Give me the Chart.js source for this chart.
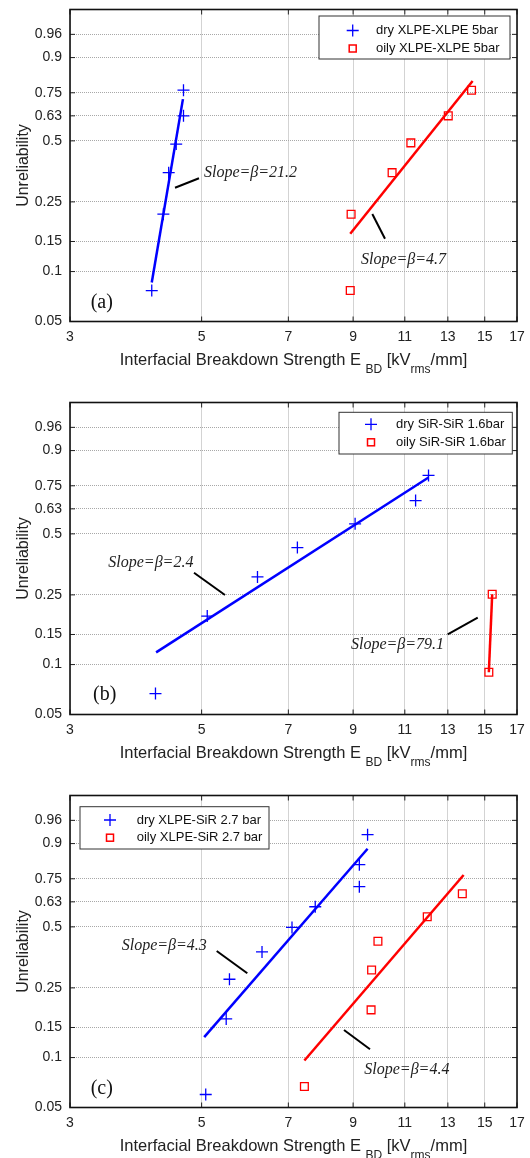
<!DOCTYPE html>
<html>
<head>
<meta charset="utf-8">
<script src="https://cdn.jsdelivr.net/npm/chart.js@4.4.0/dist/chart.umd.min.js"></script>
<style>
    html, body { margin: 0; padding: 0; background: #fff; overflow: hidden; }
    .panel { position: absolute; left: 0; width: 530px; height: 384px; }
</style>
</head>
<body>
<div class="panel" style="top:0px"><canvas id="chartA"></canvas></div>
<div class="panel" style="top:393px"><canvas id="chartB"></canvas></div>
<div class="panel" style="top:786px"><canvas id="chartC"></canvas></div>
<script>
// axis ticks
const xTicks = [3, 5, 7, 9, 11, 13, 15, 17]
const yTicks = [0.05, 0.1, 0.15, 0.25, 0.5, 0.63, 0.75, 0.9, 0.96]

// (a) XLPE-XLPE 5bar
const aDryE = [4.12, 4.31, 4.40, 4.53, 4.66, 4.66]
const aDryF = [0.077, 0.214, 0.355, 0.484, 0.630, 0.763]
const aOilyE = [8.90, 8.93, 10.47, 11.26, 13.02, 14.25]
const aOilyF = [0.077, 0.214, 0.355, 0.490, 0.630, 0.763]
const aDryFitE = [4.12, 4.65]
const aDryFitF = [0.086, 0.718]
const aOilyFitE = [8.90, 14.31]
const aOilyFitF = [0.166, 0.807]

// (b) SiR-SiR 1.6bar
const bDryE = [4.18, 5.11, 6.21, 7.25, 9.07, 11.47, 12.06]
const bDryF = [0.067, 0.191, 0.311, 0.434, 0.551, 0.674, 0.800]
const bOilyE = [15.24, 15.44]
const bOilyF = [0.090, 0.252]
const bDryFitE = [4.19, 12.06]
const bDryFitF = [0.118, 0.790]
const bOilyFitE = [15.24, 15.44]
const bOilyFitF = [0.090, 0.252]

// (c) XLPE-SiR 2.7 bar
const cDryE = [5.08, 5.50, 5.57, 6.32, 7.10, 7.77, 9.22, 9.22, 9.52]
const cDryF = [0.060, 0.168, 0.278, 0.383, 0.497, 0.604, 0.710, 0.817, 0.927]
const cOilyE = [7.45, 9.65, 9.67, 9.91, 12.00, 13.75]
const cOilyF = [0.067, 0.189, 0.311, 0.431, 0.552, 0.673]
const cDryFitE = [5.05, 9.52]
const cDryFitF = [0.132, 0.882]
const cOilyFitE = [7.45, 13.82]
const cOilyFitF = [0.096, 0.769]

const sans = "'Liberation Sans', Arial, Helvetica, sans-serif"
const serif = "'Liberation Serif', 'Times New Roman', Times, serif"

// weibull probability paper: y = ln(-ln(1-F))
const weib = F => Math.log(-Math.log(1 - F))
const pts = (E, F) => E.map((e, i) => ({ x: e, y: weib(F[i]) }))

const panels = [
    {
        id: 'chartA', tag: '(a)', tagPos: [20.7, 293],
        dry: [aDryE, aDryF], oily: [aOilyE, aOilyF],
        dryFit: [aDryFitE, aDryFitF], oilyFit: [aOilyFitE, aOilyFitF],
        legend: { names: ['dry XLPE-XLPE 5bar', 'oily XLPE-XLPE 5bar'], box: [249, 6.5, 191, 43], markX: 282.7, textX: 306, rows: [21, 39] },
        notes: [
            { text: 'Slope=\u03b2=21.2', at: [134, 163.2], line: [105, 178.2, 129, 168.8] },
            { text: 'Slope=\u03b2=4.7', at: [291, 250.5], line: [302.3, 204.5, 315, 229.2] },
        ],
    },
    {
        id: 'chartB', tag: '(b)', tagPos: [23, 292.5],
        dry: [bDryE, bDryF], oily: [bOilyE, bOilyF],
        dryFit: [bDryFitE, bDryFitF], oilyFit: [bOilyFitE, bOilyFitF],
        legend: { names: ['dry SiR-SiR 1.6bar', 'oily SiR-SiR 1.6bar'], box: [269, 9.8, 173.3, 41.7], markX: 301, textX: 326, rows: [21.8, 39.8] },
        notes: [
            { text: 'Slope=\u03b2=2.4', at: [38.3, 160.2], line: [124, 170.2, 155, 192.5] },
            { text: 'Slope=\u03b2=79.1', at: [281, 242.5], line: [377.7, 231.8, 407.7, 215.2] },
        ],
    },
    {
        id: 'chartC', tag: '(c)', tagPos: [20.7, 293.5],
        dry: [cDryE, cDryF], oily: [cOilyE, cOilyF],
        dryFit: [cDryFitE, cDryFitF], oilyFit: [cOilyFitE, cOilyFitF],
        legend: { names: ['dry XLPE-SiR 2.7 bar', 'oily XLPE-SiR 2.7 bar'], box: [10, 11.2, 189, 42.3], markX: 40, textX: 66.7, rows: [24.5, 42.2] },
        notes: [
            { text: 'Slope=\u03b2=4.3', at: [51.7, 150.2], line: [146.7, 155.5, 177.3, 177.8] },
            { text: 'Slope=\u03b2=4.4', at: [294.3, 273.8], line: [274, 234.5, 300, 253.8] },
        ],
    },
]

function drawCross(ctx, x, y, r) {
    ctx.beginPath()
    ctx.moveTo(x - r, y)
    ctx.lineTo(x + r, y)
    ctx.moveTo(x, y - r)
    ctx.lineTo(x, y + r)
    ctx.stroke()
}

// frame, inward ticks, x title with subscripts, notes, legend
const decor = {
    id: 'decor',
    afterDraw(chart, args, opts) {
        const ctx = chart.ctx
        const a = chart.chartArea
        const xs = chart.scales.x
        const ys = chart.scales.y
        ctx.save()

        // inward tick marks on all four sides
        ctx.strokeStyle = '#222'
        ctx.lineWidth = 1
        ctx.beginPath()
        xTicks.forEach(v => {
            const px = xs.getPixelForValue(v)
            ctx.moveTo(px, a.top); ctx.lineTo(px, a.top + 5)
            ctx.moveTo(px, a.bottom); ctx.lineTo(px, a.bottom - 5)
        })
        yTicks.forEach(v => {
            const py = ys.getPixelForValue(weib(v))
            ctx.moveTo(a.left, py); ctx.lineTo(a.left + 5, py)
            ctx.moveTo(a.right, py); ctx.lineTo(a.right - 5, py)
        })
        ctx.stroke()

        // box
        ctx.strokeStyle = '#111'
        ctx.lineWidth = 1.6
        ctx.strokeRect(a.left, a.top, a.right - a.left, a.bottom - a.top)

        // x title: Interfacial Breakdown Strength E_BD [kV_rms/mm]
        const parts = [
            ['Interfacial Breakdown Strength E ', 16.5, 0],
            ['BD', 12, 7.5],
            [' [kV', 16.5, 0],
            ['rms', 12, 7.5],
            ['/mm]', 16.5, 0],
        ]
        let total = 0
        parts.forEach(p => { ctx.font = p[1] + 'px ' + sans; total += ctx.measureText(p[0]).width })
        let tx = (a.left + a.right) / 2 - total / 2
        const base = a.bottom + 43.5
        ctx.fillStyle = '#222'
        ctx.textBaseline = 'alphabetic'
        ctx.textAlign = 'left'
        parts.forEach(p => {
            ctx.font = p[1] + 'px ' + sans
            ctx.fillText(p[0], tx, base + p[2])
            tx += ctx.measureText(p[0]).width
        })

        // slope notes with leader lines
        ctx.strokeStyle = '#000'
        ctx.lineWidth = 2
        ctx.font = 'italic 16px ' + serif
        ctx.textBaseline = 'middle'
        opts.notes.forEach(n => {
            ctx.beginPath()
            ctx.moveTo(a.left + n.line[0], a.top + n.line[1])
            ctx.lineTo(a.left + n.line[2], a.top + n.line[3])
            ctx.stroke()
            ctx.fillStyle = '#222'
            ctx.fillText(n.text, a.left + n.at[0], a.top + n.at[1])
        })

        // panel tag
        ctx.font = '20px ' + serif
        ctx.fillStyle = '#111'
        ctx.fillText(opts.tag, a.left + opts.tagPos[0], a.top + opts.tagPos[1])

        // legend
        const lg = opts.legend
        ctx.fillStyle = '#fff'
        ctx.fillRect(a.left + lg.box[0], a.top + lg.box[1], lg.box[2], lg.box[3])
        ctx.strokeStyle = '#333'
        ctx.lineWidth = 1
        ctx.strokeRect(a.left + lg.box[0], a.top + lg.box[1], lg.box[2], lg.box[3])
        const mx = a.left + lg.markX
        ctx.strokeStyle = '#0000ff'
        ctx.lineWidth = 1.3
        drawCross(ctx, mx, a.top + lg.rows[0], 6)
        ctx.strokeStyle = '#ff0000'
        ctx.lineWidth = 1.5
        ctx.strokeRect(mx - 3.5, a.top + lg.rows[1] - 3.5, 7, 7)
        ctx.font = '13px ' + sans
        ctx.fillStyle = '#111'
        ctx.fillText(lg.names[0], a.left + lg.textX, a.top + lg.rows[0])
        ctx.fillText(lg.names[1], a.left + lg.textX, a.top + lg.rows[1])

        ctx.restore()
    },
}

function makePanel(p) {
    const ctx = document.getElementById(p.id).getContext('2d')
    new Chart(ctx, {
        type: 'scatter',
        data: {
            datasets: [
                {
                    label: p.legend.names[0],
                    data: pts(p.dry[0], p.dry[1]),
                    pointStyle: 'cross',
                    pointRadius: 6,
                    borderColor: '#0000ff',
                    borderWidth: 1.3,
                },
                {
                    label: p.legend.names[1],
                    data: pts(p.oily[0], p.oily[1]),
                    pointStyle: 'rect',
                    pointRadius: 5.5,
                    borderColor: '#ff0000',
                    backgroundColor: 'rgba(0,0,0,0)',
                    borderWidth: 1.3,
                },
                {
                    label: 'dry fit',
                    data: pts(p.dryFit[0], p.dryFit[1]),
                    showLine: true,
                    pointRadius: 0,
                    borderColor: '#0000ff',
                    borderWidth: 2.5,
                },
                {
                    label: 'oily fit',
                    data: pts(p.oilyFit[0], p.oilyFit[1]),
                    showLine: true,
                    pointRadius: 0,
                    borderColor: '#ff0000',
                    borderWidth: 2.5,
                },
            ],
        },
        options: {
            responsive: true,
            maintainAspectRatio: false,
            animation: false,
            events: [],
            layout: { padding: { top: 9.5, right: 13, left: 0, bottom: 0 } },
            plugins: {
                legend: { display: false },
                tooltip: { enabled: false },
                decor: { tag: p.tag, tagPos: p.tagPos, legend: p.legend, notes: p.notes },
            },
            scales: {
                x: {
                    type: 'logarithmic',
                    min: 3,
                    max: 17,
                    afterBuildTicks: s => { s.ticks = xTicks.map(v => ({ value: v })) },
                    afterFit: s => {
                        s.height = 384 - 321.5
                        s.paddingLeft = 0
                        s.paddingRight = 0
                    },
                    grid: { color: '#a8a8a8', drawTicks: false },
                    border: { display: false, dash: [1, 1] },
                    ticks: {
                        autoSkip: false,
                        maxRotation: 0,
                        padding: 7,
                        color: '#222',
                        font: { family: sans, size: 14 },
                        callback: v => String(v),
                    },
                },
                y: {
                    type: 'linear',
                    min: weib(0.05),
                    max: weib(0.99),
                    afterBuildTicks: s => { s.ticks = yTicks.map(v => ({ value: weib(v) })) },
                    afterFit: s => {
                        s.width = 70
                        s.paddingTop = 0
                        s.paddingBottom = 0
                    },
                    grid: { color: '#a8a8a8', drawTicks: false },
                    border: { display: false, dash: [1, 1] },
                    ticks: {
                        autoSkip: false,
                        padding: 8,
                        color: '#222',
                        font: { family: sans, size: 14 },
                        callback: (v, i) => String(yTicks[i]),
                    },
                    title: {
                        display: true,
                        text: 'Unreliability',
                        color: '#222',
                        font: { family: sans, size: 16 },
                        padding: { top: 14, bottom: 0 },
                    },
                },
            },
        },
        plugins: [decor],
    })
}

panels.forEach(makePanel)
</script>
</body>
</html>
